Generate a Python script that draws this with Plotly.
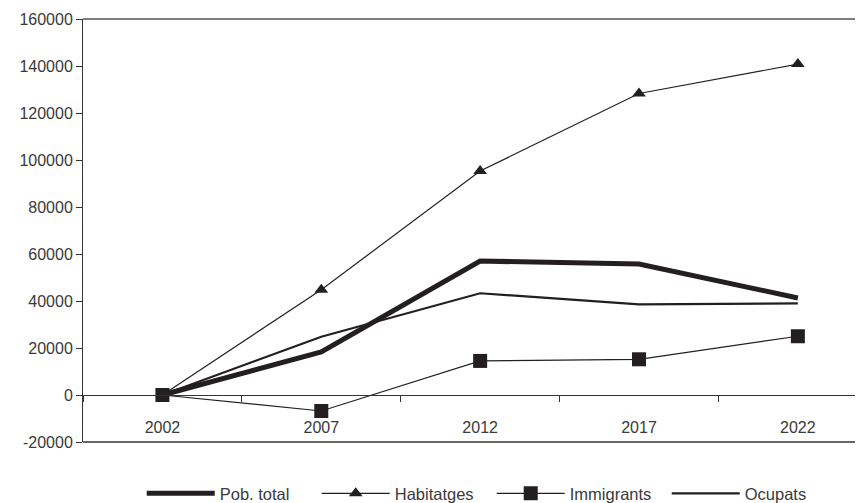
import plotly.graph_objects as go

years = ["2002", "2007", "2012", "2017", "2022"]
pob_total = [0, 18300, 57000, 55700, 41300]
habitatges = [0, 44800, 95300, 128300, 140800]
immigrants = [0, -6800, 14500, 15200, 25000]
ocupats = [0, 24800, 43300, 38600, 39000]

y_ticks = [-20000, 0, 20000, 40000, 60000, 80000, 100000, 120000, 140000, 160000]
y_tick_labels = ["-20000", "0", "20000", "40000", "60000", "80000", "100000", "120000", "140000", "160000"]

INK = "#231f20"
TXT = "#3a3a3a"
FONT = "Liberation Sans, Arial, sans-serif"

fig = go.Figure()
fig.add_trace(go.Scatter(x=years, y=pob_total, name="Pob. total", mode="lines",
                         line=dict(color=INK, width=5)))
fig.add_trace(go.Scatter(x=years, y=habitatges, name="Habitatges", mode="lines+markers",
                         line=dict(color=INK, width=1.2),
                         marker=dict(symbol="triangle-up", size=12, color=INK)))
fig.add_trace(go.Scatter(x=years, y=immigrants, name="Immigrants", mode="lines+markers",
                         line=dict(color=INK, width=1.2),
                         marker=dict(symbol="square", size=14, color=INK)))
fig.add_trace(go.Scatter(x=years, y=ocupats, name="Ocupats", mode="lines",
                         line=dict(color=INK, width=2.2)))

fig.update_layout(
    width=855, height=495,
    margin=dict(l=75, r=0, t=11, b=61, autoexpand=False),
    paper_bgcolor="white", plot_bgcolor="white",
    font=dict(family=FONT, size=16, color=TXT),
    showlegend=True,
    legend=dict(orientation="h", x=0.524, xanchor="center", y=-0.122, yanchor="middle",
                itemwidth=68, entrywidth=92,
                font=dict(size=16.5, color=TXT), bgcolor="rgba(0,0,0,0)"),
    xaxis=dict(type="category", range=[-0.5, 4.41], anchor="free", position=1/9,
               showline=True, linecolor="#333", linewidth=1,
               ticks="outside", ticklen=6, tickcolor="#333", tickson="boundaries",
               ticklabelstandoff=18,
               showgrid=False, zeroline=False, tickfont=dict(size=16, color=TXT)),
    yaxis=dict(range=[-20000, 160000], tickvals=y_ticks, ticktext=y_tick_labels,
               showline=True, linecolor="#333", linewidth=1,
               ticks="outside", ticklen=6, tickcolor="#333",
               showgrid=False, zeroline=False, tickfont=dict(size=16, color=TXT)),
    shapes=[
        dict(type="line", xref="paper", yref="paper", x0=0, x1=1, y0=1, y1=1,
             line=dict(color="#555", width=1.5)),
        dict(type="line", xref="paper", yref="paper", x0=0, x1=1, y0=0, y1=0,
             line=dict(color="#333", width=1.5)),
    ],
)

fig.write_html("out.html")
